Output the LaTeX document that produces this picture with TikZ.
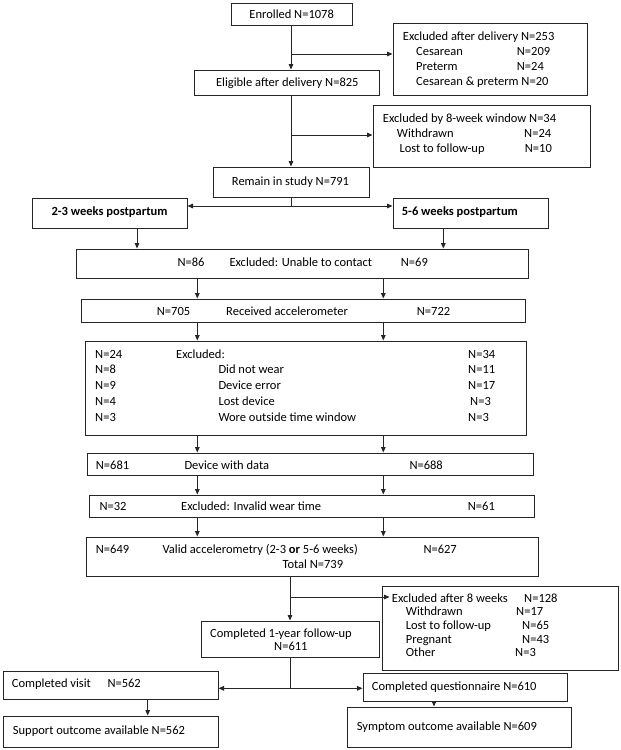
\documentclass[tikz,border=0pt]{standalone}
\usepackage{fontspec}
\setmainfont{Carlito}
\usetikzlibrary{arrows.meta,calc}
\newcounter{tn}
\begin{document}
\begin{tikzpicture}[x=1pt,y=-1pt,
  font=\fontsize{12.5}{14}\selectfont,
  box/.style={draw=black!85,line width=1pt,inner sep=0pt,rectangle},
  txt/.style={anchor=base west,inner sep=0pt,text=black},
  ctxt/.style={anchor=base,inner sep=0pt,text=black},
  etxt/.style={anchor=base east,inner sep=0pt,text=black},
  ln/.style={line width=1pt,draw=black!85},
  arr/.style={ln,-{Triangle[length=5.5pt,width=4.6pt]}}]
\newcommand\B[5]{\node[box,minimum width={#4-#2},minimum height={#5-#3}] (#1) at ({(#2+#4)/2},{(#3+#5)/2}) {};}
\newcommand\T[3]{\stepcounter{tn}\node[txt] (t\arabic{tn}) at (#1,#2+4.2) {#3};}
\newcommand\C[3]{\stepcounter{tn}\node[ctxt] (t\arabic{tn}) at (#1,#2+4.2) {#3};}
\newcommand\E[3]{\stepcounter{tn}\node[etxt] (t\arabic{tn}) at (#1,#2+4.2) {#3};}
\fill[white] (0,0) rectangle (621,750);
\useasboundingbox (0,0) rectangle (621,750);
% boxes
\B{enr}{231}{3}{352}{25}
\B{exd}{393}{23}{587}{95}
\B{elig}{194}{70}{379}{95}
\B{ex8}{373}{105}{590}{167}
\B{rem}{213}{167}{369}{197}
\B{w23}{32}{198}{187}{228}
\B{w56}{393}{198}{548}{228}
\B{unab}{76}{249}{528}{278}
\B{recv}{81}{299}{525}{322}
\B{exc}{85}{341}{526}{435}
\B{dev}{87}{453}{533}{475}
\B{inv}{89}{495}{534}{517}
\B{valid}{86}{537}{538}{576}
\B{ex8w}{382}{586}{618}{670}
\B{comp}{201}{621}{379}{657}
\B{visit}{3}{671}{218}{699}
\B{supp}{3}{716}{218}{747}
\B{quest}{363}{673}{567}{701}
\B{symp}{347}{707}{571}{747}
% column coordinates
\coordinate (cM) at (291,0);
\coordinate (cN) at (290,0);
\coordinate (cA) at (137,0);
\coordinate (cB) at (443.3,0);
\coordinate (cL) at (197.3,0);
\coordinate (cR) at (383.3,0);
\coordinate (cV) at (147.7,0);
\coordinate (cQ) at (434,0);
\coordinate (j1) at (291,54);
\coordinate (j2) at (291,135);
\coordinate (j3) at (291,206);
\coordinate (j4) at (290,597);
\coordinate (j5) at (290,688.3);
% connectors
\draw[arr] (enr.south -| cM) -- (elig.north -| cM);
\draw[arr] (j1) -- (j1 -| exd.west);
\draw[arr] (elig.south -| cM) -- (rem.north -| cM);
\draw[arr] (j2) -- (j2 -| ex8.west);
\draw[ln] (rem.south -| cM) -- (j3);
\draw[arr] (j3) -- (j3 -| w23.east);
\draw[arr] (j3) -- (j3 -| w56.west);
\draw[arr] (w23.south -| cA) -- (unab.north -| cA);
\draw[arr] (w56.south -| cB) -- (unab.north -| cB);
\foreach \a/\b in {unab/recv,recv/exc,exc/dev,dev/inv,inv/valid}{
  \draw[arr] (\a.south -| cL) -- (\b.north -| cL);
  \draw[arr] (\a.south -| cR) -- (\b.north -| cR);
}
\draw[arr] (valid.south -| cN) -- (comp.north -| cN);
\draw[arr] (j4) -- ($(j4 -| ex8w.west)+(8,0)$);
\draw[ln] (comp.south -| cN) -- (j5);
\draw[arr] (j5) -- (j5 -| visit.east);
\draw[arr] (j5) -- (j5 -| quest.west);
\draw[arr] (visit.south -| cV) -- (supp.north -| cV);
\draw[arr] (quest.south -| cQ) -- (symp.north -| cQ);
% texts
\C{291.7}{14.5}{Enrolled N=1078}
\T{402.7}{36}{Excluded after delivery N=253}
\T{416}{51.3}{Cesarean}\T{516.7}{51.3}{N=209}
\T{416}{66.7}{Preterm}\T{516.7}{66.7}{N=24}
\T{416}{81.7}{Cesarean \& preterm N=20}
\C{287.3}{82.7}{Eligible after delivery N=825}
\T{382.7}{118.3}{Excluded by 8-week window N=34}
\T{396.7}{133.3}{Withdrawn}\T{524}{133.3}{N=24}
\T{399.3}{148.3}{Lost to follow-up}\T{524.7}{148.3}{N=10}
\C{290.5}{181.5}{Remain in study N=791}
\C{109.5}{211}{\bfseries 2-3 weeks postpartum}
\T{401.7}{211}{\bfseries 5-6 weeks postpartum}
\T{177.4}{262.3}{N=86}\T{229.3}{262.3}{Excluded: Unable to contact}\T{400.7}{262.3}{N=69}
\T{156.7}{311.5}{N=705}\T{226}{311.5}{Received accelerometer}\T{416.7}{311.5}{N=722}
\T{95}{354}{N=24}\T{176}{354}{Excluded:}\T{468}{354}{N=34}
\T{95}{369.7}{N=8}\T{218.3}{369.7}{Did not wear}\T{468}{369.7}{N=11}
\T{95}{385.4}{N=9}\T{218.3}{385.4}{Device error}\T{468}{385.4}{N=17}
\T{95}{401.1}{N=4}\T{218.3}{401.1}{Lost device}\T{470}{401.1}{N=3}
\T{95}{416.8}{N=3}\T{218.3}{416.8}{Wore outside time window}\T{468}{416.8}{N=3}
\T{95.7}{465}{N=681}\T{184.3}{465}{Device with data}\T{409.3}{465}{N=688}
\T{99.3}{506.5}{N=32}\T{181}{506.5}{Excluded: Invalid wear time}\T{467.7}{506.5}{N=61}
\T{95.7}{549.3}{N=649}\T{162.3}{549.3}{Valid accelerometry (2-3 \textbf{or} 5-6 weeks)}\T{423.3}{549.3}{N=627}
\E{343.3}{564}{Total N=739}
\T{391.7}{598.3}{Excluded after 8 weeks}\T{524}{598.3}{N=128}
\T{405.7}{611.7}{Withdrawn}\T{516}{611.7}{N=17}
\T{405.7}{625.5}{Lost to follow-up}\T{522}{625.5}{N=65}
\T{405.7}{639}{Pregnant}\T{522}{639}{N=43}
\T{405.7}{652.3}{Other}\T{515}{652.3}{N=3}
\T{210}{633.3}{Completed 1-year follow-up}
\T{274}{646.7}{N=611}
\T{11.7}{683.3}{Completed visit}\T{107.3}{683.3}{N=562}
\T{12.7}{730}{Support outcome available N=562}
\T{371.7}{686.7}{Completed questionnaire N=610}
\T{356.7}{726.7}{Symptom outcome available N=609}
\end{tikzpicture}
\end{document}
